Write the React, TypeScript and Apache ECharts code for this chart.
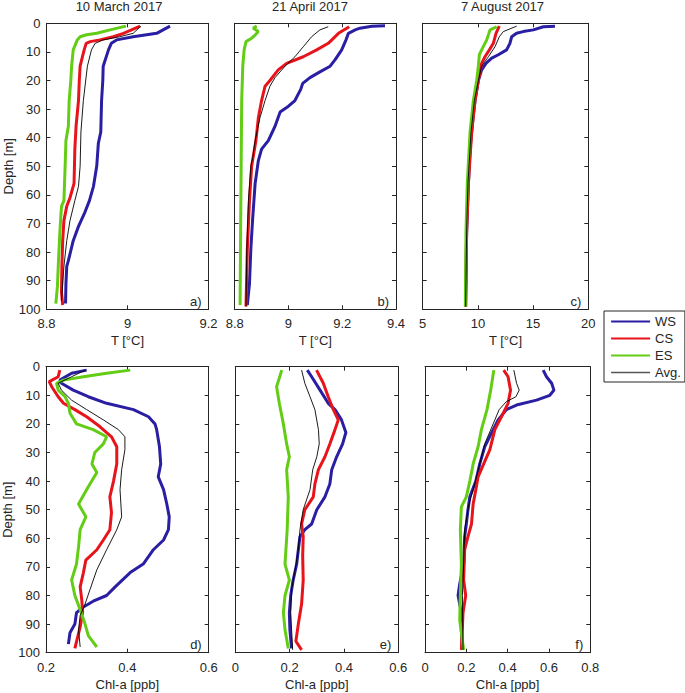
import React, { useEffect, useRef } from 'react';
import * as echarts from 'echarts';

// ---- Data: [value, depth(m)] ----
// Panel a) 10 March 2017, temperature
const aWS = [[9.105,1],[9.072,3.5],[9.014,4.7],[8.973,5.8],[8.96,7],[8.953,9.3],[8.94,15],[8.939,20],[8.936,27],[8.934,38],[8.928,42],[8.924,50],[8.916,57],[8.906,62],[8.895,66],[8.879,71],[8.866,76],[8.854,83],[8.85,85],[8.848,91],[8.847,98]];
const aCS = [[9.031,1],[9.01,2.3],[8.99,3.5],[8.965,4.7],[8.932,5.8],[8.908,6.4],[8.898,7],[8.893,9.3],[8.883,15],[8.881,20],[8.879,27],[8.873,36],[8.87,44],[8.868,56],[8.858,61],[8.85,64],[8.843,69],[8.84,76],[8.838,85],[8.837,94],[8.84,98.5]];
const aES = [[8.996,1],[8.957,2.3],[8.924,3.5],[8.899,4],[8.883,4.7],[8.876,5.8],[8.866,9.3],[8.862,15],[8.86,20],[8.856,27],[8.854,36],[8.848,41],[8.846,50],[8.843,62],[8.837,64],[8.833,73],[8.829,85],[8.827,92],[8.823,98]];
const aAvg = [[9.033,1],[9.014,3.5],[8.981,4.7],[8.94,5.8],[8.92,7],[8.911,9.3],[8.901,15],[8.891,27],[8.885,38],[8.883,50],[8.879,57],[8.87,62],[8.858,69],[8.85,76],[8.843,85],[8.837,97]];

// Panel b) 21 April 2017, temperature
const bWS = [[9.359,0.9],[9.31,1.0],[9.266,1.7],[9.248,2.3],[9.223,3.5],[9.214,5.8],[9.198,9.3],[9.173,12.8],[9.155,15],[9.117,17],[9.08,19],[9.053,21],[9.046,23],[9.024,27],[9.0,29],[8.969,31],[8.95,36],[8.925,41],[8.9,44],[8.888,48],[8.876,56],[8.867,68],[8.86,79],[8.855,91],[8.847,98.5]];
const bCS = [[9.226,1.2],[9.186,3.5],[9.148,7],[9.105,9.3],[9.055,11.7],[8.993,14],[8.962,16.3],[8.931,20],[8.913,22],[8.9,27],[8.888,33],[8.879,41],[8.863,50],[8.855,62],[8.847,79],[8.842,99]];
const bES = [[8.882,1],[8.869,1.7],[8.888,2.9],[8.876,4.1],[8.863,5.2],[8.842,6.4],[8.835,9.3],[8.83,15],[8.826,27],[8.824,50],[8.822,73],[8.82,98.5]];
const bAvg = [[9.148,1.2],[9.117,2.3],[9.086,4.7],[9.055,8.2],[9.024,11.7],[8.987,15],[8.95,19],[8.931,22],[8.913,27],[8.894,33],[8.876,41],[8.867,47],[8.86,50],[8.851,62],[8.845,79],[8.842,99]];

// Panel c) 7 August 2017, temperature
const cWS = [[16.98,1],[15.93,1.2],[15.02,2.3],[14.1,2.9],[13.5,3.5],[13.06,4.7],[12.9,7],[12.6,9.3],[11.85,11],[11.25,12.2],[10.73,14],[10.34,16.3],[10.04,20],[9.74,27],[9.53,34],[9.29,44],[9.14,56],[8.98,73],[8.89,99]];
const cCS = [[11.94,1],[11.64,3.5],[11.4,7],[11.04,9.3],[10.64,11.7],[10.34,14],[10.04,20],[9.74,27],[9.44,38],[9.14,56],[8.98,73],[8.89,99]];
const cES = [[11.7,1.2],[11.1,2.3],[10.8,5.8],[10.34,9.3],[10.13,11],[10.04,15],[9.89,20],[9.59,27],[9.29,38],[9.04,56],[8.92,73],[8.86,99]];
const cAvg = [[13.51,1],[12.3,2.9],[11.94,4.7],[11.55,8.2],[10.95,11.7],[10.34,15],[10.04,20],[9.68,27],[9.38,38],[9.1,56],[8.98,73],[8.89,99]];

// Panel d) 10 March 2017, Chl-a
const dWS = [[0.3,1.2],[0.263,2.3],[0.234,4.7],[0.238,5.8],[0.267,8.2],[0.304,10.5],[0.349,12.8],[0.415,15],[0.452,17.5],[0.468,20],[0.472,22],[0.479,28],[0.482,34],[0.476,38.5],[0.489,43],[0.497,48],[0.503,52.5],[0.501,57],[0.489,60.6],[0.464,64],[0.439,69],[0.407,72],[0.37,77],[0.349,80],[0.316,82],[0.292,84],[0.275,86],[0.271,90],[0.259,93],[0.255,97]];
const dCS = [[0.234,1.2],[0.23,3.5],[0.208,5.2],[0.214,7],[0.23,10.5],[0.243,12.8],[0.271,15],[0.3,17.5],[0.333,21],[0.361,24.5],[0.374,28],[0.374,34],[0.366,40],[0.357,45.5],[0.361,51],[0.357,57],[0.341,60.6],[0.325,64],[0.298,67.6],[0.292,72],[0.284,77],[0.288,81.6],[0.29,86],[0.284,91],[0.271,98.5]];
const dES = [[0.407,1.2],[0.349,2.3],[0.292,3.5],[0.243,4.7],[0.226,5.8],[0.23,8.2],[0.247,10.5],[0.255,12.8],[0.259,16.3],[0.275,20],[0.316,22],[0.349,24.5],[0.341,27],[0.32,30],[0.313,34],[0.325,37],[0.304,42],[0.28,48],[0.298,52.5],[0.284,57],[0.28,63],[0.275,69],[0.263,74.6],[0.271,80],[0.284,85],[0.296,90],[0.304,94],[0.325,98]];
const dAvg = [[0.296,1.2],[0.263,3.5],[0.23,5.8],[0.238,8.2],[0.263,11.7],[0.3,15],[0.341,18.6],[0.378,22],[0.394,24.5],[0.394,29],[0.386,36],[0.382,43],[0.386,52.5],[0.374,57],[0.349,64],[0.325,71],[0.308,78],[0.296,83],[0.284,87],[0.28,92],[0.284,98]];

// Panel e) 21 April 2017, Chl-a
const eWS = [[0.265,1.2],[0.281,3.5],[0.312,8.2],[0.342,12.8],[0.367,15],[0.391,18.6],[0.407,23],[0.395,27],[0.373,31.5],[0.355,36],[0.348,41],[0.33,45.5],[0.3,50],[0.281,55],[0.256,57],[0.238,59.4],[0.232,64],[0.226,69],[0.213,74.6],[0.204,80],[0.199,86],[0.201,92],[0.207,98.5]];
const eCS = [[0.299,1.2],[0.324,5.8],[0.342,10.5],[0.361,15],[0.379,18.6],[0.367,22],[0.348,27],[0.33,31.5],[0.306,36],[0.293,41],[0.287,45.5],[0.256,50],[0.244,55],[0.25,59.4],[0.248,66],[0.25,74.6],[0.244,83],[0.232,90],[0.223,96],[0.244,99]];
const eES = [[0.171,1.2],[0.152,7],[0.162,12.8],[0.177,20],[0.189,27],[0.199,31.5],[0.189,36],[0.195,45.5],[0.191,57],[0.183,69],[0.199,74.6],[0.183,80],[0.177,86],[0.183,92],[0.195,98.5]];
const eAvg = [[0.244,1.2],[0.256,5.8],[0.275,10.5],[0.293,15],[0.306,22],[0.309,27],[0.3,31.5],[0.285,36],[0.275,43],[0.25,50],[0.238,57],[0.232,64],[0.22,71],[0.207,78],[0.204,86],[0.211,99]];

// Panel f) 7 August 2017, Chl-a
const fWS = [[0.572,1.2],[0.588,3.5],[0.613,5.8],[0.624,8.2],[0.604,10],[0.54,11.7],[0.443,13.4],[0.394,15],[0.354,18.6],[0.33,22],[0.289,28],[0.265,34],[0.246,40],[0.217,45.5],[0.208,50],[0.2,55],[0.192,59.4],[0.187,69],[0.168,76],[0.16,80],[0.176,86],[0.176,92],[0.181,99]];
const fCS = [[0.381,1.2],[0.402,3.5],[0.414,8.2],[0.402,12.8],[0.37,17.5],[0.338,22],[0.314,29],[0.284,34],[0.257,38.5],[0.246,43],[0.233,48],[0.225,55],[0.208,59.4],[0.192,64],[0.187,74.6],[0.197,80],[0.184,86],[0.176,99]];
const fES = [[0.333,1.2],[0.318,8.2],[0.3,15],[0.273,22],[0.257,28],[0.233,34],[0.217,40],[0.2,45.5],[0.176,49],[0.171,57],[0.176,69],[0.171,80],[0.168,88.6],[0.187,99]];
const fAvg = [[0.43,1.2],[0.443,5.8],[0.456,8.2],[0.44,10.5],[0.394,12.2],[0.359,15],[0.33,20],[0.289,27],[0.265,34],[0.241,41],[0.213,48],[0.192,57],[0.187,69],[0.181,80],[0.184,99]];

const seriesNames = ['WS', 'CS', 'ES', 'Avg.'];
const panelTitles = ['10 March 2017', '21 April 2017', '7 August 2017'];
const panelLetters = ['a)', 'b)', 'c)', 'd)', 'e)', 'f)'];
const xRanges = [[8.8, 9.2, 0.2], [8.8, 9.4, 0.2], [5, 20, 5], [0.2, 0.6, 0.2], [0, 0.6, 0.2], [0, 0.8, 0.2]];
const xNames = ['T [°C]', 'T [°C]', 'T [°C]', 'Chl-a [ppb]', 'Chl-a [ppb]', 'Chl-a [ppb]'];
const panelData = [
  [aWS, aCS, aES, aAvg],
  [bWS, bCS, bES, bAvg],
  [cWS, cCS, cES, cAvg],
  [dWS, dCS, dES, dAvg],
  [eWS, eCS, eES, eAvg],
  [fWS, fCS, fES, fAvg],
];

const FONT = 'Liberation Sans, Arial, Helvetica, sans-serif';
const TXT = '#262626';
const COLORS = ['#2A1EA2', '#E8141C', '#62CD14', '#000000'];
const WIDTHS = [3, 3, 3, 0.9];
const LEGEND_COLORS = ['#2A1EA2', '#E8141C', '#62CD14', '#555555'];
const LEGEND_WIDTHS = [2.2, 2.2, 2.2, 1.3];

const GRIDS = [
  { left: 46.5, top: 23.3, width: 162, height: 286 },
  { left: 234.7, top: 23.3, width: 161.3, height: 286 },
  { left: 422.7, top: 23.3, width: 165.6, height: 286 },
  { left: 46, top: 366.7, width: 162.7, height: 286 },
  { left: 235.3, top: 366.7, width: 163, height: 286 },
  { left: 425, top: 366.7, width: 165.3, height: 286 },
];
const TITLE_X = [119, 310, 502.5];

const fmt = (v: number) => String(Number(v.toFixed(2)));

export default function App() {
  const ref = useRef<HTMLDivElement>(null);
  useEffect(() => {
    if (!ref.current) return;
    const chart = echarts.init(ref.current, null, { renderer: 'svg' });
    const tick = { show: true, inside: true, length: 4, lineStyle: { color: TXT, width: 1 } };
    const line = { show: true, onZero: false, lineStyle: { color: TXT, width: 1 } };
    const xAxis: any[] = [];
    const yAxis: any[] = [];
    const series: any[] = [];
    const graphic: any[] = [];
    GRIDS.forEach((g, i) => {
      const [mn, mx, iv] = xRanges[i];
      xAxis.push({
        type: 'value', gridIndex: i, position: 'bottom', min: mn, max: mx, interval: iv,
        axisLine: line, axisTick: tick, splitLine: { show: false },
        axisLabel: { show: true, margin: 8, color: TXT, fontSize: 13, fontFamily: FONT, formatter: fmt, showMinLabel: true, showMaxLabel: true },
        name: xNames[i], nameLocation: 'middle', nameGap: 25,
        nameTextStyle: { color: TXT, fontSize: 13, fontFamily: FONT },
      });
      xAxis.push({
        type: 'value', gridIndex: i, position: 'top', min: mn, max: mx, interval: iv,
        axisLine: line, axisTick: tick, splitLine: { show: false }, axisLabel: { show: false },
      });
      const showY = i === 0 || i === 3;
      yAxis.push({
        type: 'value', gridIndex: i, position: 'left', inverse: true, min: 0, max: 100, interval: 10,
        axisLine: line, axisTick: tick, splitLine: { show: false },
        axisLabel: { show: showY, margin: 6, color: TXT, fontSize: 13, fontFamily: FONT },
        name: showY ? 'Depth [m]' : '', nameLocation: 'middle', nameGap: 31,
        nameTextStyle: { color: TXT, fontSize: 13, fontFamily: FONT },
      });
      yAxis.push({
        type: 'value', gridIndex: i, position: 'right', inverse: true, min: 0, max: 100, interval: 10,
        axisLine: line, axisTick: tick, splitLine: { show: false }, axisLabel: { show: false },
      });
      panelData[i].forEach((d, k) => {
        series.push({
          type: 'line', name: seriesNames[k], xAxisIndex: 2 * i, yAxisIndex: 2 * i,
          data: d, symbol: 'none', showSymbol: false, smooth: false,
          lineStyle: { color: COLORS[k], width: WIDTHS[k] }, itemStyle: { color: COLORS[k] },
          z: 2 + k, silent: true,
        });
      });
      graphic.push({
        type: 'text', x: g.left + g.width - 7, y: g.top + g.height - 8,
        style: { text: panelLetters[i], fill: TXT, font: `13px ${FONT}`, textAlign: 'right', textVerticalAlign: 'middle' },
        z: 10,
      });
    });
    TITLE_X.forEach((x, i) => {
      graphic.push({
        type: 'text', x, y: 0,
        style: { text: panelTitles[i], fill: TXT, font: `13px ${FONT}`, textAlign: 'center', textVerticalAlign: 'top' },
      });
    });
    chart.setOption({
      animation: false,
      backgroundColor: '#ffffff',
      grid: GRIDS.map((g) => ({ ...g, containLabel: false })),
      xAxis,
      yAxis,
      series,
      graphic,
      legend: {
        data: seriesNames.map((n, k) => ({ name: n, lineStyle: { color: LEGEND_COLORS[k], width: LEGEND_WIDTHS[k] } })),
        orient: 'vertical', left: 604, top: 311,
        padding: [4, 4, 3, 6], itemWidth: 39, itemHeight: 13, itemGap: 4,
        borderColor: TXT, borderWidth: 1, backgroundColor: '#fff',
        selectedMode: false,
        itemStyle: { opacity: 0 },
        textStyle: { color: TXT, fontSize: 13, fontFamily: FONT },
      },
    });
    return () => chart.dispose();
  }, []);
  return <div ref={ref} style={{ position: 'absolute', left: 0, top: 0, width: 685, height: 693 }} />;
}
